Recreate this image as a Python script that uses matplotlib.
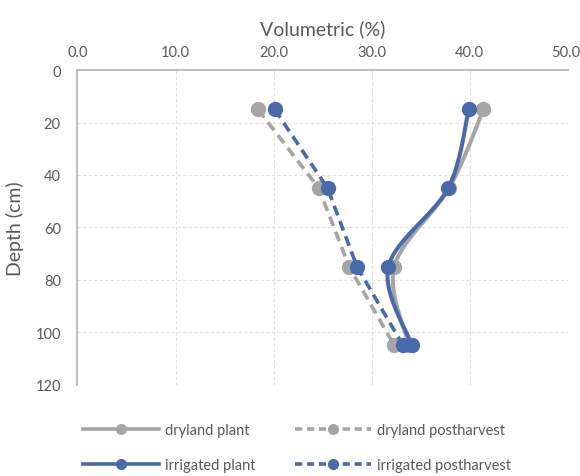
import numpy as np
import matplotlib.pyplot as plt
import matplotlib.transforms as mtransforms
from matplotlib.lines import Line2D
from matplotlib.legend_handler import HandlerTuple

plt.rcParams['font.family'] = ['Lato', 'DejaVu Sans']

# Soil moisture by depth
depth = [15, 45, 75, 105]
dryland_plant = [41.4, 37.9, 32.3, 33.8]
dryland_post = [18.4, 24.6, 27.7, 32.3]
irrigated_plant = [39.9, 37.8, 31.7, 34.1]
irrigated_post = [20.1, 25.5, 28.5, 33.2]

grey = '#A5A5A5'
blue = '#4A69A9'
text_col = '#595959'


def smooth(x, y, steps=30):
    # Catmull-Rom curve through the points (same idea as a spreadsheet "smoothed line")
    p = np.column_stack([x, y]).astype(float)
    p = np.vstack([p[0], p, p[-1]])
    out = []
    t = np.linspace(0, 1, steps)[:, None]
    for i in range(1, len(p) - 2):
        p0, p1, p2, p3 = p[i - 1], p[i], p[i + 1], p[i + 2]
        c1 = p1 + (p2 - p0) / 6
        c2 = p2 - (p3 - p1) / 6
        seg = ((1 - t) ** 3) * p1 + 3 * ((1 - t) ** 2) * t * c1 + 3 * (1 - t) * t ** 2 * c2 + t ** 3 * p2
        out.append(seg)
    out = np.vstack(out)
    return out[:, 0], out[:, 1]


fig = plt.figure(figsize=(5.8, 4.77), dpi=100)
ax = fig.add_axes([0.1336, 0.1914, 0.979 - 0.1336, 0.851 - 0.1914])

lw = 2.6
ms = 10
dash = (2.8, 1.7)

# postharvest: straight dashed
ax.plot(dryland_post, depth, color=grey, lw=lw, linestyle=(0, dash), dash_capstyle='butt', zorder=3)
ax.plot(dryland_post, depth, 'o', color=grey, ms=ms, zorder=3)
ax.plot(irrigated_post, depth, color=blue, lw=lw, linestyle=(0, dash), dash_capstyle='butt', zorder=4)
ax.plot(irrigated_post, depth, 'o', color=blue, ms=ms, zorder=4)

# plant: smoothed solid
sx, sy = smooth(dryland_plant, depth)
ax.plot(sx, sy, color=grey, lw=lw + 0.3, solid_capstyle='round', zorder=3)
ax.plot(dryland_plant, depth, 'o', color=grey, ms=ms, zorder=3)
sx, sy = smooth(irrigated_plant, depth)
ax.plot(sx, sy, color=blue, lw=lw + 0.3, solid_capstyle='round', zorder=5)
ax.plot(irrigated_plant, depth, 'o', color=blue, ms=ms, zorder=5)

ax.set_xlim(0, 50)
ax.set_ylim(120, 0)
ax.xaxis.tick_top()
ax.xaxis.set_label_position('top')
ax.set_xticks(np.arange(0, 51, 10))
ax.set_xticklabels([f'{v:.1f}' for v in np.arange(0, 51, 10)])
ax.set_yticks(np.arange(0, 121, 20))
ax.tick_params(length=0, labelsize=10.5, colors=text_col, pad=12)
ax.tick_params(axis='x', pad=8)

# keep the last x label inside the figure
last = ax.get_xticklabels()[-1]
last.set_transform(last.get_transform() + mtransforms.ScaledTranslation(-2 / 100, 0, fig.dpi_scale_trans))

ax.set_xlabel('Volumetric (%)', fontsize=14, color=text_col, labelpad=8)
ax.set_ylabel('Depth (cm)', fontsize=14, color=text_col, labelpad=8)

ax.grid(True, color='#E0E0E0', linestyle=(0, (3, 2)), lw=0.8)
ax.set_axisbelow(True)
for side in ['right', 'bottom']:
    ax.spines[side].set_visible(False)
for side in ['left', 'top']:
    ax.spines[side].set_color('#BFBFBF')
    ax.spines[side].set_linewidth(1.5)


def legend_handle(color, style):
    line = Line2D([], [], color=color, lw=lw, linestyle=style)
    dot = Line2D([], [], color=color, marker='o', ms=7, linestyle='none')
    return (line, dot)


handles = [
    legend_handle(grey, '-'),
    legend_handle(blue, '-'),
    legend_handle(grey, (0, (2, 1.3))),
    legend_handle(blue, (0, (2, 1.3))),
]
labels = ['dryland plant', 'irrigated plant', 'dryland postharvest', 'irrigated postharvest']
leg = fig.legend(handles, labels, ncol=2, loc='lower left', bbox_to_anchor=(0.12, -0.02),
                 frameon=False, fontsize=10.5, handlelength=5.2, columnspacing=2.7,
                 labelspacing=1.45, handletextpad=0.45, numpoints=1,
                 handler_map={tuple: HandlerTuple(ndivide=1, pad=0)})
for t in leg.get_texts():
    t.set_color(text_col)

fig.savefig('out.png', dpi=100)
